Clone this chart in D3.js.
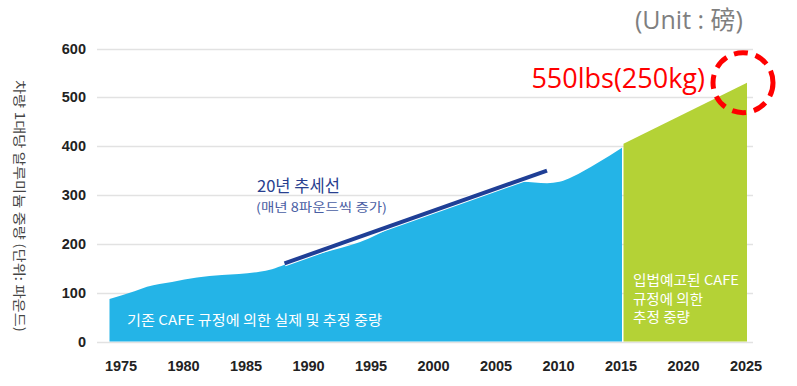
<!DOCTYPE html>
<html>
<head>
<meta charset="utf-8">
<script src="https://cdn.jsdelivr.net/npm/d3@7"></script>
<style>
  body { margin: 0; background: #fff; }
  svg { display: block; }
</style>
</head>
<body>
<div id="chart"></div>
<script>
// values
var yTicks = [0, 100, 200, 300, 400, 500, 600];
var xTicks = [1975, 1980, 1985, 1990, 1995, 2000, 2005, 2010, 2015, 2020, 2025];

// actual + estimated weight under the existing CAFE rule
var pastYears  = [1974, 1976, 1977, 1979, 1981, 1983, 1986, 1987, 1988, 1991, 1994, 1997, 1999, 2002, 2005, 2007, 2009, 2010, 2011, 2013, 2015];
var pastValues = [87, 103, 112, 122, 131, 136, 143, 148, 157, 181, 203, 238, 257, 286, 312, 327, 324, 327, 337, 365, 397];

// estimate under the proposed CAFE rule
var futureYears  = [2015, 2025];
var futureValues = [405, 530];

// 20 year trend line
var trendYears  = [1988, 2009];
var trendValues = [160, 350];

(function() {
    var width = 797,
        height = 386;

    var svg = d3.select("#chart")
        .append("svg")
        .attr("width", width)
        .attr("height", height);

    var x = d3.scaleLinear().domain([1975, 2025]).range([122, 747]);
    var y = d3.scaleLinear().domain([0, 600]).range([341.5, 48.5]);

    // gridlines
    svg.append("g")
        .selectAll("line")
        .data(yTicks)
        .enter().append("line")
        .attr("x1", 97)
        .attr("x2", 753)
        .attr("y1", function(d) { return Math.round(y(d)) + 0.5; })
        .attr("y2", function(d) { return Math.round(y(d)) + 0.5; })
        .attr("stroke", "#e2e2e2")
        .attr("stroke-width", 1.5);

    var area = d3.area()
        .x(function(d) { return x(d[0]); })
        .y0(y(0))
        .y1(function(d) { return y(d[1]); })
        .curve(d3.curveMonotoneX);

    var past = d3.zip(pastYears, pastValues);
    var future = d3.zip(futureYears, futureValues);

    svg.append("path")
        .datum(past)
        .attr("d", area)
        .attr("fill", "#24b4e7");

    svg.append("path")
        .datum(future)
        .attr("d", d3.area()
            .x(function(d) { return x(d[0]) + (d[0] === 2015 ? 1.5 : 0); })
            .y0(y(0))
            .y1(function(d) { return y(d[1]); }))
        .attr("fill", "#b4d236");

    // trend line (white halo underneath)
    var trend = d3.zip(trendYears, trendValues);
    var line = d3.line()
        .x(function(d) { return x(d[0]); })
        .y(function(d) { return y(d[1]); });

    svg.append("path")
        .datum(trend)
        .attr("d", line)
        .attr("stroke", "#fff")
        .attr("stroke-width", 6)
        .attr("fill", "none");
    svg.append("path")
        .datum(trend)
        .attr("d", line)
        .attr("stroke", "#1f3f96")
        .attr("stroke-width", 4)
        .attr("fill", "none");

    // axes
    var tickFont = "'Liberation Sans', Arial, sans-serif";
    var yAxis = d3.axisLeft(y).tickValues(yTicks).tickSize(0).tickPadding(0);
    var gy = svg.append("g")
        .attr("transform", "translate(86,0)")
        .call(yAxis);
    gy.select(".domain").remove();
    gy.selectAll("text")
        .attr("font-family", tickFont)
        .attr("font-size", 14.5)
        .attr("font-weight", "bold")
        .attr("fill", "#222");

    var xAxis = d3.axisBottom(x).tickValues(xTicks).tickFormat(d3.format("d")).tickSize(0).tickPadding(0);
    var gx = svg.append("g")
        .attr("transform", "translate(-1.5,361)")
        .call(xAxis);
    gx.select(".domain").remove();
    gx.selectAll("text")
        .attr("font-family", tickFont)
        .attr("font-size", 14.5)
        .attr("font-weight", "bold")
        .attr("fill", "#222");

    var kfont = "'Noto Sans CJK KR', 'Noto Sans', sans-serif";

    // y axis title
    svg.append("text")
        .attr("transform", "translate(15,80) rotate(90)")
        .attr("font-family", kfont)
        .attr("font-size", 13)
        .attr("fill", "#444")
        .attr("textLength", 252)
        .attr("lengthAdjust", "spacingAndGlyphs")
        .text("차량 1대당 알루미늄 중량 (단위: 파운드)");

    // trend annotation
    svg.append("text")
        .attr("x", 257)
        .attr("y", 192)
        .attr("font-family", kfont)
        .attr("font-size", 16.5)
        .attr("fill", "#283f8f")
        .attr("textLength", 83)
        .attr("lengthAdjust", "spacingAndGlyphs")
        .text("20년 추세선");
    svg.append("text")
        .attr("x", 256)
        .attr("y", 212)
        .attr("font-family", kfont)
        .attr("font-size", 12.5)
        .attr("fill", "#4a5ea3")
        .attr("textLength", 131)
        .attr("lengthAdjust", "spacingAndGlyphs")
        .text("(매년 8파운드씩 증가)");

    // area labels
    svg.append("text")
        .attr("x", 127)
        .attr("y", 325)
        .attr("font-family", kfont)
        .attr("font-size", 13.5)
        .attr("fill", "#fff")
        .attr("textLength", 255)
        .attr("lengthAdjust", "spacingAndGlyphs")
        .text("기존 CAFE 규정에 의한 실제 및 추정 중량");

    var greenLines = ["입법예고된 CAFE", "규정에 의한", "추정 중량"];
    var greenWidths = [106, 70, 57];
    svg.append("g")
        .selectAll("text")
        .data(greenLines)
        .enter().append("text")
        .attr("x", 633)
        .attr("y", function(d, i) { return 285 + i * 18.5; })
        .attr("font-family", kfont)
        .attr("font-size", 13.5)
        .attr("fill", "#fff")
        .attr("textLength", function(d, i) { return greenWidths[i]; })
        .attr("lengthAdjust", "spacingAndGlyphs")
        .text(function(d) { return d; });

    // callout
    svg.append("text")
        .attr("x", 705)
        .attr("y", 88)
        .attr("text-anchor", "end")
        .attr("font-family", "'Open Sans', sans-serif")
        .attr("font-size", 27)
        .attr("fill", "#ff0000")
        .text("550lbs(250kg)");

    svg.append("circle")
        .attr("cx", x(2025) - 4)
        .attr("cy", y(530))
        .attr("r", 30)
        .attr("fill", "none")
        .attr("stroke", "#ff0000")
        .attr("stroke-width", 5)
        .attr("stroke-dasharray", "14 8");

    svg.append("text")
        .attr("x", 743)
        .attr("y", 29)
        .attr("text-anchor", "end")
        .attr("font-family", "'Open Sans', 'Noto Sans CJK SC', sans-serif")
        .attr("font-size", 25)
        .attr("fill", "#7f7f7f")
        .text("(Unit : 磅)");
})();
</script>
</body>
</html>
